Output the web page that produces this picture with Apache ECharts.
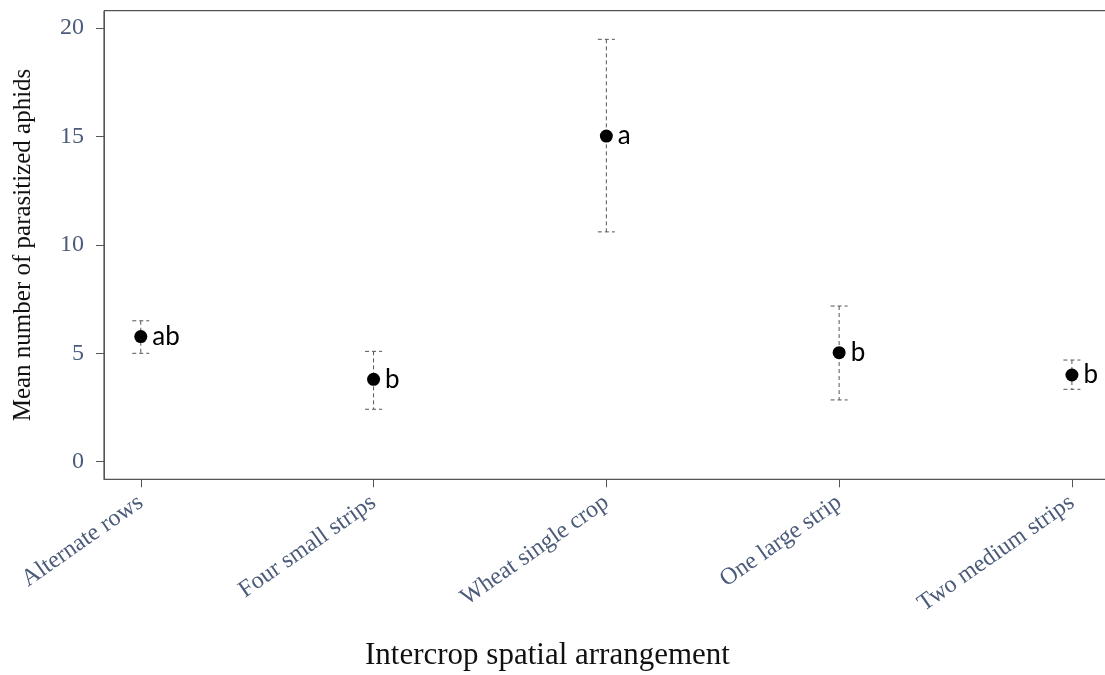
<!DOCTYPE html>
<html>
<head>
<meta charset="utf-8">
<script src="https://cdn.jsdelivr.net/npm/echarts@6/dist/echarts.min.js"></script>
<style>
html,body{margin:0;padding:0;background:#fff;}
#chart{width:1105px;height:675px;}
</style>
</head>
<body>
<div id="chart"></div>
<script>
const categories = ['Alternate rows', 'Four small strips', 'Wheat single crop', 'One large strip', 'Two medium strips'];
const means = [5.77, 3.80, 15.02, 5.03, 4.00];
const upper = [6.50, 5.09, 19.48, 7.18, 4.69];
const lower = [5.00, 2.42, 10.60, 2.85, 3.34];
const letters = ['ab', 'b', 'a', 'b', 'b'];
const yTicks = [0, 5, 10, 15, 20];
const xPositions = categories.map((c, i) => i + 1);
const xTitle = 'Intercrop spatial arrangement';
const yTitle = 'Mean number of parasitized aphids';

const chart = echarts.init(document.getElementById('chart'), null, {renderer: 'canvas'});

const serif = '"Liberation Serif", "DejaVu Serif", serif';
const tickColor = '#4b5b79';

const option = {
  animation: false,
  backgroundColor: '#fff',
  title: {
    text: xTitle,
    left: 365, top: 640,
    padding: 0,
    textStyle: {fontFamily: serif, fontSize: 31, fontWeight: 'normal', color: '#111'}
  },
  grid: {
    left: 104, top: 10.7, width: 1004.7, height: 468.6,
    outerBoundsMode: 'none', containLabel: false,
    show: true, borderColor: '#2a2a2a', borderWidth: 1, backgroundColor: 'transparent'
  },
  xAxis: {
    type: 'value',
    min: 0.842, max: 5.158,
    axisLine: {show: true, onZero: false, lineStyle: {color: '#555', width: 1}},
    axisTick: {show: true, length: 8, customValues: xPositions, lineStyle: {color: '#555'}},
    splitLine: {show: false},
    axisLabel: {
      customValues: xPositions,
      rotate: 35, margin: 21,
      fontFamily: serif, fontSize: 24, color: tickColor,
      formatter: v => categories[Math.round(v) - 1] || ''
    }
  },
  yAxis: {
    type: 'value',
    min: -0.81, max: 20.8,
    axisLine: {show: true, onZero: false, lineStyle: {color: '#555', width: 1}},
    axisTick: {show: true, length: 8, customValues: yTicks, lineStyle: {color: '#555'}},
    splitLine: {show: false},
    axisLabel: {
      customValues: yTicks, margin: 20,
      fontFamily: serif, fontSize: 24, color: tickColor
    },
    name: yTitle,
    nameLocation: 'middle', nameGap: 68,
    nameTextStyle: {fontFamily: serif, fontSize: 25, color: '#111'}
  },
  series: [
    {
      type: 'custom',
      data: xPositions.map((x, i) => [x, lower[i], upper[i]]),
      renderItem: function (params, api) {
        const x = api.value(0);
        const lo = api.coord([x, api.value(1)]);
        const hi = api.coord([x, api.value(2)]);
        const hw = 8.5;
        const st = {stroke: '#555', lineWidth: 1, lineDash: [4, 3], fill: null};
        return {
          type: 'group',
          children: [
            {type: 'line', shape: {x1: hi[0], y1: hi[1], x2: lo[0], y2: lo[1]}, style: st},
            {type: 'line', shape: {x1: hi[0] - hw, y1: hi[1], x2: hi[0] + hw, y2: hi[1]}, style: st},
            {type: 'line', shape: {x1: lo[0] - hw, y1: lo[1], x2: lo[0] + hw, y2: lo[1]}, style: st}
          ]
        };
      },
      z: 1
    },
    {
      type: 'scatter',
      symbol: 'circle',
      symbolSize: 13,
      itemStyle: {color: '#000', opacity: 1},
      data: xPositions.map((x, i) => [x, means[i]]),
      label: {
        show: true, position: 'right', distance: 5,
        fontFamily: 'Lato, "Open Sans", sans-serif', fontSize: 26, color: '#000',
        formatter: p => letters[p.dataIndex]
      },
      z: 3
    }
  ]
};
chart.setOption(option);
</script>
</body>
</html>
